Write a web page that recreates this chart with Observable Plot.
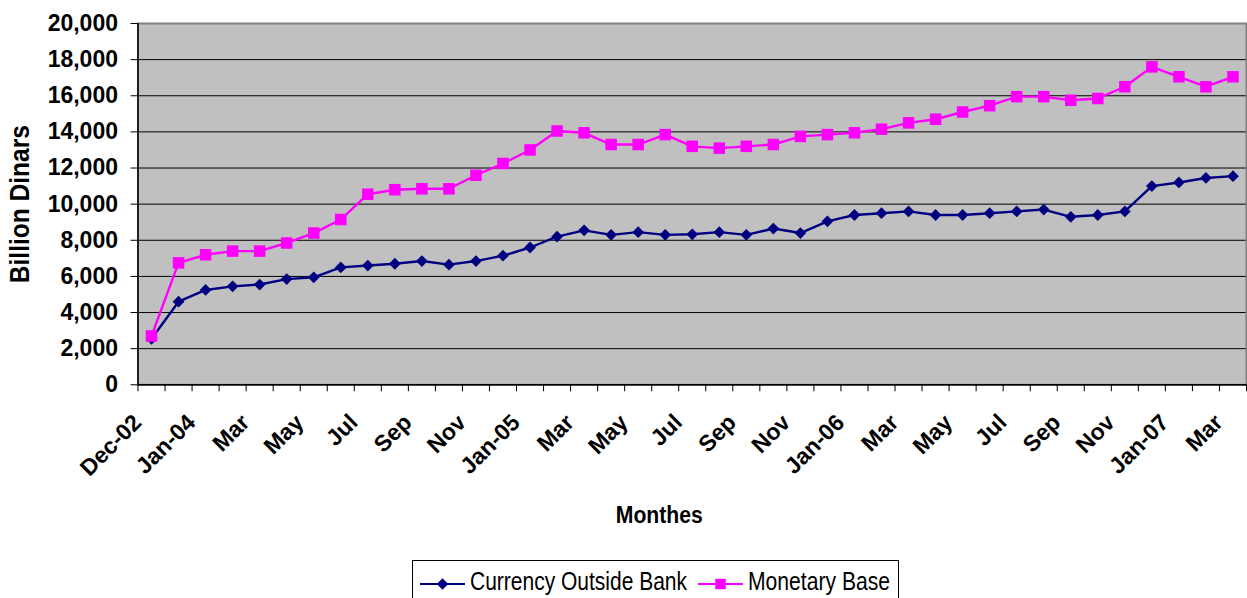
<!DOCTYPE html>
<html>
<head>
<meta charset="utf-8">
<script src="https://cdn.jsdelivr.net/npm/d3@7"></script>
<script src="https://cdn.jsdelivr.net/npm/@observablehq/plot@0.6"></script>
<style>
  html, body { margin: 0; padding: 0; background: #fff; overflow: hidden; }
  #wrap { position: relative; width: 1247px; height: 598px; overflow: hidden; }
  #legend { position: absolute; left: 412px; top: 560px; }
  text { font-family: "Liberation Sans", Arial, sans-serif; }
</style>
</head>
<body>
<div id="wrap"></div>
<script>
// ---- data ----
const categories = [
  "Dec-02", "Dec-03",
  "Jan-04", "Feb-04", "Mar-04", "Apr-04", "May-04", "Jun-04", "Jul-04", "Aug-04", "Sep-04", "Oct-04", "Nov-04", "Dec-04",
  "Jan-05", "Feb-05", "Mar-05", "Apr-05", "May-05", "Jun-05", "Jul-05", "Aug-05", "Sep-05", "Oct-05", "Nov-05", "Dec-05",
  "Jan-06", "Feb-06", "Mar-06", "Apr-06", "May-06", "Jun-06", "Jul-06", "Aug-06", "Sep-06", "Oct-06", "Nov-06", "Dec-06",
  "Jan-07", "Feb-07", "Mar-07"
];
const currencyOutsideBank = [
  2550, 4600, 5250, 5450, 5550, 5850, 5950, 6500, 6600, 6700, 6850,
  6650, 6850, 7150, 7600, 8200, 8550, 8300, 8450, 8300, 8330,
  8450, 8300, 8650, 8400, 9050, 9400, 9500, 9600, 9400, 9400,
  9500, 9600, 9700, 9300, 9400, 9600, 11000, 11200, 11450, 11550
];
const monetaryBase = [
  2700, 6750, 7200, 7400, 7400, 7850, 8400, 9150, 10550, 10800, 10850,
  10850, 11600, 12250, 13000, 14050, 13950, 13300, 13300, 13850, 13200,
  13100, 13200, 13300, 13750, 13850, 13950, 14150, 14500, 14700, 15100,
  15450, 15950, 15950, 15750, 15850, 16500, 17600, 17050, 16500, 17050
];
const tickLabels = [
  "Dec-02", "Jan-04", "Mar", "May", "Jul", "Sep", "Nov",
  "Jan-05", "Mar", "May", "Jul", "Sep", "Nov",
  "Jan-06", "Mar", "May", "Jul", "Sep", "Nov",
  "Jan-07", "Mar"
];
const seriesNames = ["Currency Outside Bank", "Monetary Base"];
const seriesColors = ["#000080", "#FF00FF"];
const yTicks = [0, 2000, 4000, 6000, 8000, 10000, 12000, 14000, 16000, 18000, 20000];
const yTitle = "Billion Dinars";
const xTitle = "Monthes";

// ---- derived tables ----
const rowsA = categories.map((c, i) => ({i, category: c, series: seriesNames[0], value: currencyOutsideBank[i]}));
const rowsB = categories.map((c, i) => ({i, category: c, series: seriesNames[1], value: monetaryBase[i]}));
const xDomain = [-0.5, categories.length - 0.5];
const boundaries = d3.range(categories.length + 1).map(k => k - 0.5);
const labelIdx = tickLabels.map((_, k) => k * 2);

const chart = Plot.plot({
  width: 1247,
  height: 555,
  marginLeft: 137.5,
  marginRight: 1,
  marginTop: 23,
  marginBottom: 170.7,
  style: {fontFamily: "'Liberation Sans', Arial, sans-serif", background: "transparent", color: "#000"},
  x: {type: "linear", domain: xDomain, label: null},
  y: {domain: [yTicks[0], yTicks[yTicks.length - 1]], label: null},
  color: {domain: seriesNames, range: seriesColors},
  marks: [
    Plot.frame({fill: "#C0C0C0"}),
    Plot.gridY(yTicks, {stroke: "#000", strokeOpacity: 1, strokeWidth: 1}),
    Plot.frame({stroke: "#808080", strokeWidth: 2}),
    Plot.ruleX([xDomain[0]], {stroke: "#000", strokeWidth: 1.5}),
    Plot.ruleY([yTicks[0]], {stroke: "#000", strokeWidth: 1.5}),
    Plot.axisY(yTicks, {tickSize: 7, tickPadding: 13, tickFormat: d3.format(","), fontSize: 23, fontWeight: "bold", label: null, stroke: "#000"}),
    Plot.axisX(boundaries, {tickSize: 7, tickFormat: () => "", label: null, stroke: "#000"}),
    Plot.axisX(labelIdx, {tickSize: 0, tickRotate: -45, tickFormat: d => tickLabels[d / 2], fontSize: 23, fontWeight: "bold", label: null, dx: -14, dy: 22}),
    Plot.line(rowsA, {x: "i", y: "value", stroke: "series", strokeWidth: 2.4}),
    Plot.dot(rowsA, {x: "i", y: "value", fill: "series", symbol: "square", r: 4.7, rotate: 45}),
    Plot.line(rowsB, {x: "i", y: "value", stroke: "series", strokeWidth: 2.4}),
    Plot.dot(rowsB, {x: "i", y: "value", fill: "series", symbol: "square", r: 6.5}),
    Plot.text([yTitle], {frameAnchor: "left", rotate: -90, textAnchor: "start", dx: -117.5, dy: 79, fontSize: 27, fontWeight: "bold"}),
    Plot.text([xTitle], {frameAnchor: "bottom", dx: -33, dy: 138, fontSize: 23, fontWeight: "bold"})
  ]
});

const wrap = document.getElementById("wrap");
wrap.appendChild(chart);

// condense axis titles to the reference's measured lengths
d3.select(chart).selectAll("text")
  .filter(function () { return this.textContent === yTitle; })
  .attr("textLength", 158).attr("lengthAdjust", "spacingAndGlyphs");
d3.select(chart).selectAll("text")
  .filter(function () { return this.textContent === xTitle; })
  .attr("textLength", 87).attr("lengthAdjust", "spacingAndGlyphs");

// ---- legend (below the chart) ----
const legendItems = [
  {name: seriesNames[0], color: seriesColors[0], marker: "diamond", x0: 8, textLen: 217},
  {name: seriesNames[1], color: seriesColors[1], marker: "square", x0: 286, textLen: 142}
];
const lg = d3.create("svg").attr("id", "legend").attr("width", 560).attr("height", 38);
lg.append("rect").attr("x", 0.5).attr("y", 0.5).attr("width", 486).attr("height", 60)
  .attr("fill", "#fff").attr("stroke", "#000").attr("stroke-width", 1);
for (const it of legendItems) {
  const g = lg.append("g");
  g.append("line").attr("x1", it.x0).attr("x2", it.x0 + 45).attr("y1", 24).attr("y2", 24)
    .attr("stroke", it.color).attr("stroke-width", 2);
  const cx = it.x0 + 22.5;
  if (it.marker === "diamond") {
    g.append("path").attr("d", d3.symbol(d3.symbolSquare, 66)()).attr("transform", `translate(${cx},24) rotate(45)`).attr("fill", it.color);
  } else {
    g.append("path").attr("d", d3.symbol(d3.symbolSquare, 110)()).attr("transform", `translate(${cx},24)`).attr("fill", it.color);
  }
  g.append("text").attr("x", it.x0 + 50).attr("y", 30).attr("font-size", 25)
    .attr("textLength", it.textLen).attr("lengthAdjust", "spacingAndGlyphs")
    .attr("fill", "#000").text(it.name);
}
wrap.appendChild(lg.node());
</script>
</body>
</html>
